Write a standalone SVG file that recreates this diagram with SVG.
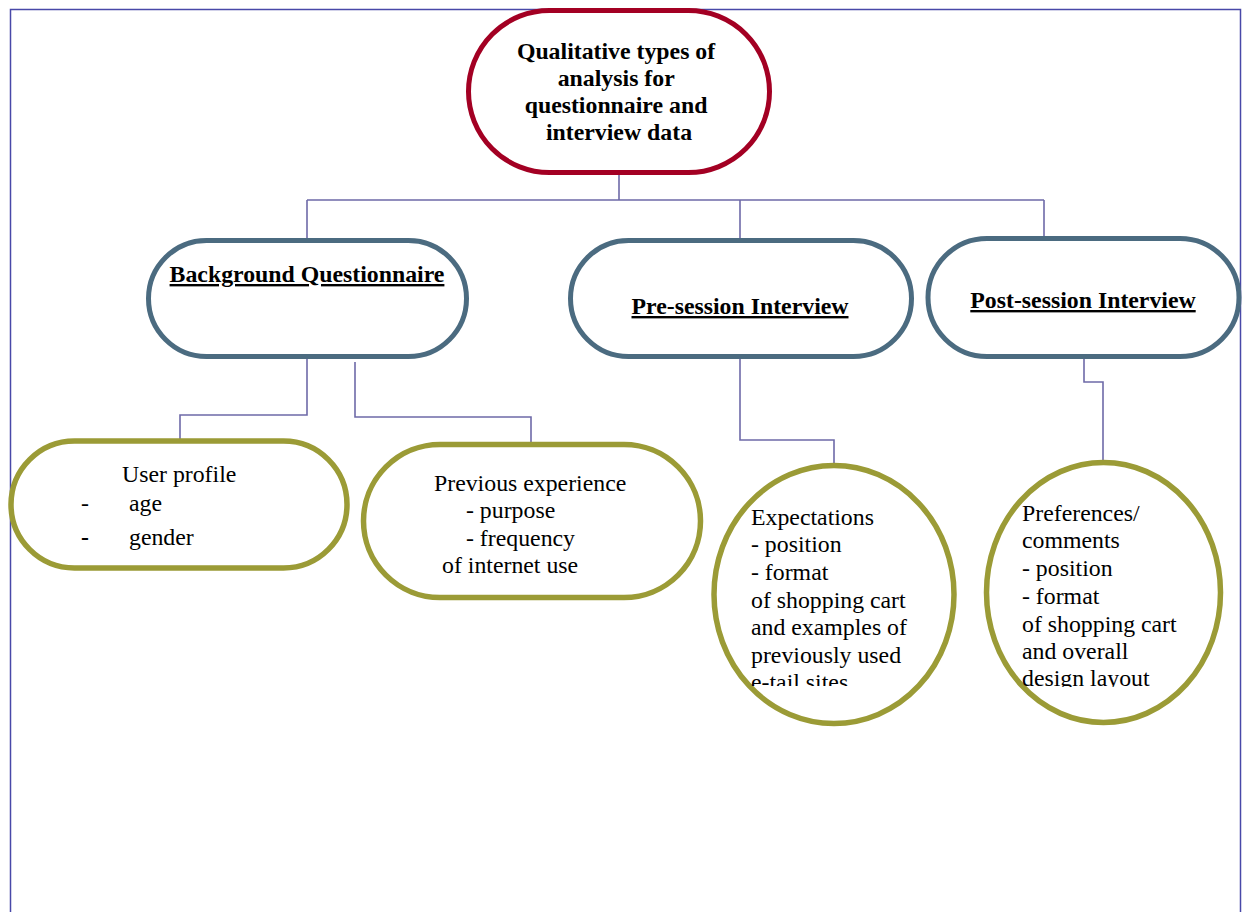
<svg xmlns="http://www.w3.org/2000/svg" width="1247" height="912" viewBox="0 0 1247 912">
  <style>
    .frame { fill: none; stroke: #4848a8; stroke-width: 1.5; }
    .link { fill: none; stroke: #6e6aa8; stroke-width: 1.6; }
    .root { fill: #ffffff; stroke: #a30023; stroke-width: 5; }
    .mid { fill: #ffffff; stroke: #4b6b80; stroke-width: 5; }
    .leaf { fill: #ffffff; stroke: #9b9b36; stroke-width: 5.5; }
    .title { font-family: "Liberation Serif", "Times New Roman", serif; font-weight: bold; font-size: 23.8px; fill: #000; }
    .body { font-family: "Liberation Serif", "Times New Roman", serif; font-size: 23.8px; fill: #000; }
    .ul { text-decoration: underline; }
  </style>
  <defs>
    <clipPath id="clipExp"><rect x="700" y="470" width="260" height="216"/></clipPath>
    <clipPath id="clipPref"><rect x="980" y="470" width="245" height="217"/></clipPath>
  </defs>

  <rect width="1247" height="912" fill="#ffffff"/>
  <!-- page frame (open at the bottom) -->
  <path class="frame" d="M10.5,912 V9.5 H1240.5 V912"/>

  <!-- connectors -->
  <g id="connectors">
    <path class="link" d="M619,174 V200 M307,200 H1044 M307,200 V240 M740,200 V240 M1044,200 V240 H1068"/>
    <path class="link" d="M307,358 V415 H180 V440"/>
    <path class="link" d="M355,362 V417 H531 V445"/>
    <path class="link" d="M740,358 V440 H834 V465"/>
    <path class="link" d="M1084,358 V382 H1103 V461"/>
  </g>

  <!-- root -->
  <g id="root">
    <rect class="root" x="468.5" y="10.5" width="301" height="162" rx="81"/>
    <text class="title" text-anchor="middle">
      <tspan x="619" y="59">Qualitative types of</tspan>
      <tspan x="619" y="86">analysis for</tspan>
      <tspan x="619" y="113">questionnaire and</tspan>
      <tspan x="619" y="140">interview data</tspan>
    </text>
  </g>

  <!-- second level -->
  <g id="background-questionnaire">
    <rect class="mid" x="148.5" y="240.5" width="318" height="116" rx="58"/>
    <text class="title ul" x="307" y="282" text-anchor="middle">Background Questionnaire</text>
  </g>
  <g id="pre-session-interview">
    <rect class="mid" x="570.5" y="240.5" width="341" height="116" rx="58"/>
    <text class="title ul" x="740" y="314" text-anchor="middle">Pre-session Interview</text>
  </g>
  <g id="post-session-interview">
    <rect class="mid" x="928" y="238.5" width="311" height="118" rx="59"/>
    <text class="title ul" x="1083" y="308" text-anchor="middle">Post-session Interview</text>
  </g>

  <!-- third level -->
  <g id="user-profile">
    <rect class="leaf" x="11" y="441" width="336" height="127" rx="63.5"/>
    <text class="body">
      <tspan x="122" y="482">User profile</tspan>
      <tspan x="81" y="511">-</tspan>
      <tspan x="129" y="511">age</tspan>
      <tspan x="81" y="545" font-weight="bold">-</tspan>
      <tspan x="129" y="545">gender</tspan>
    </text>
  </g>
  <g id="previous-experience">
    <rect class="leaf" x="363.5" y="444.5" width="337" height="153" rx="76.5"/>
    <text class="body">
      <tspan x="434" y="491">Previous experience</tspan>
      <tspan x="466" y="518">- purpose</tspan>
      <tspan x="466" y="546">- frequency</tspan>
      <tspan x="442" y="573">of internet use</tspan>
    </text>
  </g>
  <g id="expectations">
    <ellipse class="leaf" cx="834" cy="594.5" rx="120" ry="129"/>
    <text class="body" clip-path="url(#clipExp)">
      <tspan x="751" y="525">Expectations</tspan>
      <tspan x="751" y="552">- position</tspan>
      <tspan x="751" y="580">- format</tspan>
      <tspan x="751" y="608">of shopping cart</tspan>
      <tspan x="751" y="635">and examples of</tspan>
      <tspan x="751" y="663">previously used</tspan>
      <tspan x="751" y="690">e-tail sites</tspan>
    </text>
  </g>
  <g id="preferences">
    <ellipse class="leaf" cx="1103.5" cy="592.5" rx="117" ry="130"/>
    <text class="body" clip-path="url(#clipPref)">
      <tspan x="1022" y="521">Preferences/</tspan>
      <tspan x="1022" y="548">comments</tspan>
      <tspan x="1022" y="576">- position</tspan>
      <tspan x="1022" y="604">- format</tspan>
      <tspan x="1022" y="632">of shopping cart</tspan>
      <tspan x="1022" y="659">and overall</tspan>
      <tspan x="1022" y="686">design layout</tspan>
    </text>
  </g>
</svg>
